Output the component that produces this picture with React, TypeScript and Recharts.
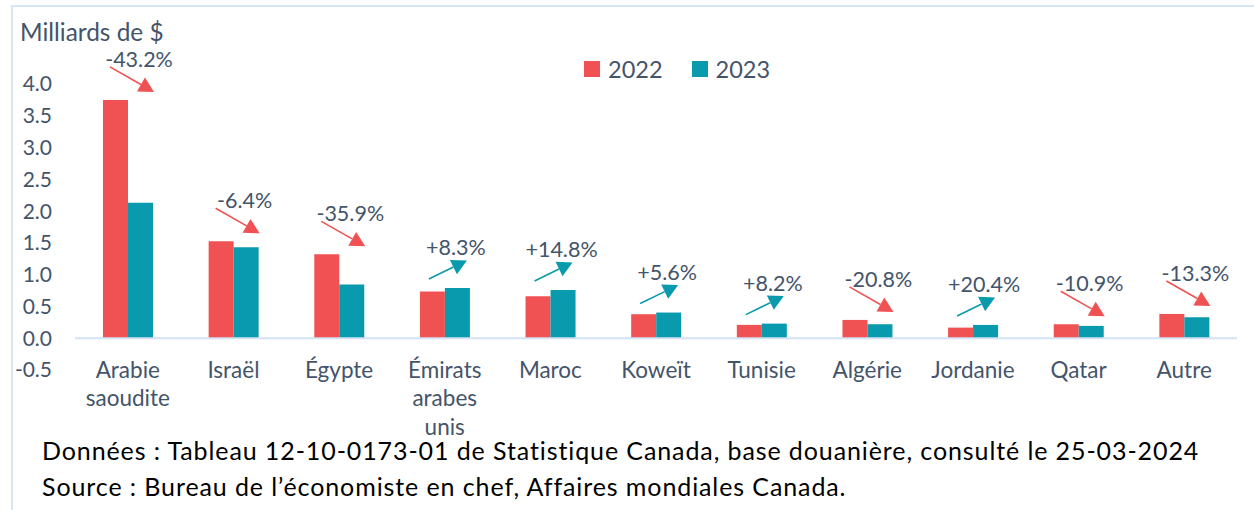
import React from 'react';
import { BarChart, Bar, XAxis, YAxis, ReferenceLine } from 'recharts';

const categories = [
  'Arabie\nsaoudite',
  'Israël',
  'Égypte',
  'Émirats\narabes\nunis',
  'Maroc',
  'Koweït',
  'Tunisie',
  'Algérie',
  'Jordanie',
  'Qatar',
  'Autre',
];
const values2022 = [3.75, 1.525, 1.32, 0.735, 0.66, 0.378, 0.21, 0.288, 0.167, 0.22, 0.382];
const values2023 = [2.13, 1.43, 0.845, 0.79, 0.76, 0.404, 0.23, 0.22, 0.209, 0.194, 0.33];
const changeLabels = ['-43.2%', '-6.4%', '-35.9%', '+8.3%', '+14.8%', '+5.6%', '+8.2%', '-20.8%', '+20.4%', '-10.9%', '-13.3%'];
const yTicks = [-0.5, 0, 0.5, 1, 1.5, 2, 2.5, 3, 3.5, 4];
const seriesNames = ['2022', '2023'];

const RED = '#F05253';
const TEAL = '#0A9AAD';
const TXT = '#44546A';
const FONT = 'Lato, "Noto Sans", sans-serif';

const data = categories.map((c, i) => ({ cat: c, v2022: values2022[i], v2023: values2023[i] }));

const CatTick = (props: any) => {
  const { x, y, payload } = props;
  const lines = String(payload.value).split('\n');
  return (
    <g>
      {lines.map((l: string, i: number) => (
        <text key={i} x={x} y={y - 1 + i * 28.5} textAnchor="middle" dominantBaseline="central"
          fill={TXT} fontSize={22.5} fontFamily={FONT}>{l}</text>
      ))}
    </g>
  );
};

const Annot = (props: any) => {
  const vb = props.viewBox && props.viewBox.width !== undefined ? props.viewBox : props;
  const x = Number(vb.x), y = Number(vb.y), height = Number(vb.height);
  let i = props.index;
  if (i === undefined || i === null) i = values2023.indexOf(props.value);
  if (i < 0 || isNaN(x)) return null;
  const v23 = values2023[i];
  const v22 = values2022[i];
  const base = y + height;
  const k = height / v23;
  const top = Math.min(y, base - v22 * k);
  const cx = x; // left edge of 2023 bar = category centre
  const L = top - 40;
  const label = changeLabels[i];
  const up = label.startsWith('+');
  const color = up ? TEAL : RED;
  const sx = up ? cx - 16 : cx - 18;
  const sy = up ? L + 31 : L + 7;
  const tx = up ? cx + 22 : cx + 26;
  const ty = up ? L + 12.5 : L + 32;
  const dx = tx - sx, dy = ty - sy;
  const len = Math.sqrt(dx * dx + dy * dy);
  const ux = dx / len, uy = dy / len;
  const hl = 15, hw = 8;
  const bx = tx - ux * hl, by = ty - uy * hl;
  const p1 = `${tx},${ty}`;
  const p2 = `${bx - uy * hw},${by + ux * hw}`;
  const p3 = `${bx + uy * hw},${by - ux * hw}`;
  return (
    <g>
      <line x1={sx} y1={sy} x2={bx} y2={by} stroke={color} strokeWidth={1.6} />
      <polygon points={`${p1} ${p2} ${p3}`} fill={color} />
      <text x={cx + 11} y={L - 1} textAnchor="middle" dominantBaseline="central" fill={TXT}
        fontSize={21.5} fontFamily={FONT}>{label}</text>
    </g>
  );
};

const seriesColors = [RED, TEAL];

export default function App() {
  return (
    <div style={{ position: 'absolute', left: 0, top: 0, width: 1254, height: 510, background: '#fff', overflow: 'hidden' }}>
      <div style={{ position: 'absolute', left: 11, top: 5, width: 1243, height: 505, borderTop: '2px solid #D6E6F6', borderLeft: '2px solid #D6E6F6', boxSizing: 'border-box' }} />
      <div style={{ position: 'absolute', left: 0, top: 0 }}>
        <BarChart width={1254} height={510} data={data} barSize={25} barGap={0}
          margin={{ top: 84, right: 17, left: 0, bottom: 110 }}>
          <YAxis type="number" domain={[-0.5, 4]} ticks={yTicks} width={75} axisLine={false} tickLine={false}
            tickSize={0} tickMargin={23} interval={0}
            tickFormatter={(v: number) => v.toFixed(1)}
            tick={{ fill: TXT, fontSize: 21, fontFamily: FONT }} />
          <XAxis dataKey="cat" height={30} axisLine={false} tickLine={false} tickSize={0} tickMargin={0}
            interval={0} tick={<CatTick />} />
          <ReferenceLine y={0} stroke="#D4E3F3" strokeWidth={2} />
          <Bar dataKey="v2022" name={seriesNames[0]} fill={RED} isAnimationActive={false} />
          <Bar dataKey="v2023" name={seriesNames[1]} fill={TEAL} isAnimationActive={false} label={<Annot />} />
        </BarChart>
      </div>
      <div style={{ position: 'absolute', left: 584, top: 56, display: 'flex', alignItems: 'center', fontFamily: FONT, fontSize: 23.5, color: TXT }}>
        {seriesNames.map((n, i) => (
          <div key={n} style={{ display: 'flex', alignItems: 'center', marginRight: i === 0 ? 29 : 0 }}>
            <div style={{ width: 16, height: 16, background: seriesColors[i], marginRight: 8 }} />
            <span style={{ lineHeight: '26px' }}>{n}</span>
          </div>
        ))}
      </div>
      <div style={{ position: 'absolute', left: 20, top: 16, fontFamily: FONT, fontSize: 24.4, color: TXT, lineHeight: '32px', whiteSpace: 'nowrap' }}>
        Milliards de $
      </div>
      <div style={{ position: 'absolute', left: 42, top: 432, fontFamily: FONT, fontSize: 25, letterSpacing: '0.9px', color: '#000', lineHeight: '36px', whiteSpace: 'nowrap' }}>
        <div>Données : Tableau 12-10-0173-01 de Statistique Canada, base douanière, consulté le 25-03-2024</div>
        <div>Source : Bureau de l’économiste en chef, Affaires mondiales Canada.</div>
      </div>
    </div>
  );
}
